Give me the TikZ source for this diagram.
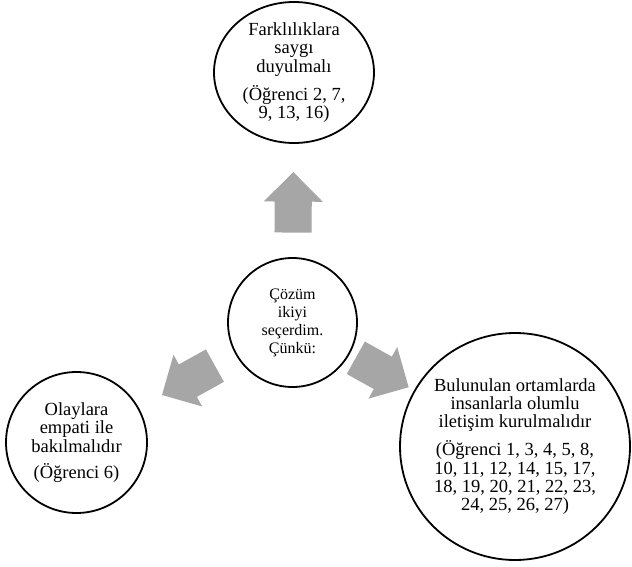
\documentclass[tikz,border=0pt]{standalone}
\usepackage{fontspec}
\setmainfont{Liberation Serif}
\usetikzlibrary{calc,shapes.geometric,shapes.arrows}
\definecolor{arrowgray}{RGB}{166,166,166}

\begin{document}
\begin{tikzpicture}[x=1pt, y=-1pt,
	bubble/.style = {draw, line width=1.8pt, ellipse, inner sep=0pt, align=center, font=\fontsize{18.5}{18.3}\selectfont},
	bigarrow/.style = {single arrow, fill=arrowgray, draw=none, inner xsep=0pt, inner ysep=18.35pt, minimum height=60.5pt, minimum width=58.7pt, single arrow head extend=11pt, single arrow tip angle=90, sloped, allow upside down, anchor=tail}]
	\useasboundingbox (0,0) rectangle (632,567);
	% the four bubbles
	\node[bubble, minimum width=160pt, minimum height=141pt] (top) at (294,72.5) {Farklılıklara\\saygı\\duyulmalı\\[8pt](Öğrenci 2, 7,\\9, 13, 16)};
	\node[bubble, minimum width=129pt, minimum height=129pt, font=\fontsize{16}{18}\selectfont] (ctr) at (292.5,322.5) {Çözüm\\ikiyi\\seçerdim.\\Çünkü:};
	\node[bubble, minimum width=141pt, minimum height=141pt] (lft) at (76.5,442.5) {Olaylara\\empati ile\\bakılmalıdır\\[8pt](Öğrenci 6)};
	\node[bubble, minimum width=230pt, minimum height=227pt] (rgt) at (515,446.5) {Bulunulan ortamlarda\\insanlarla olumlu\\iletişim kurulmalıdır\\[8pt](Öğrenci 1, 3, 4, 5, 8,\\10, 11, 12, 14, 15, 17,\\18, 19, 20, 21, 22, 23,\\24, 25, 26, 27)};
	% gray arrows out of the centre
	\path (ctr) -- (top) node[pos=0.215, bigarrow] {};
	\path (ctr) -- (lft) node[pos=0.21, bigarrow] {};
	\path (ctr) -- (rgt) node[pos=0.093, bigarrow] {};
\end{tikzpicture}
\end{document}
